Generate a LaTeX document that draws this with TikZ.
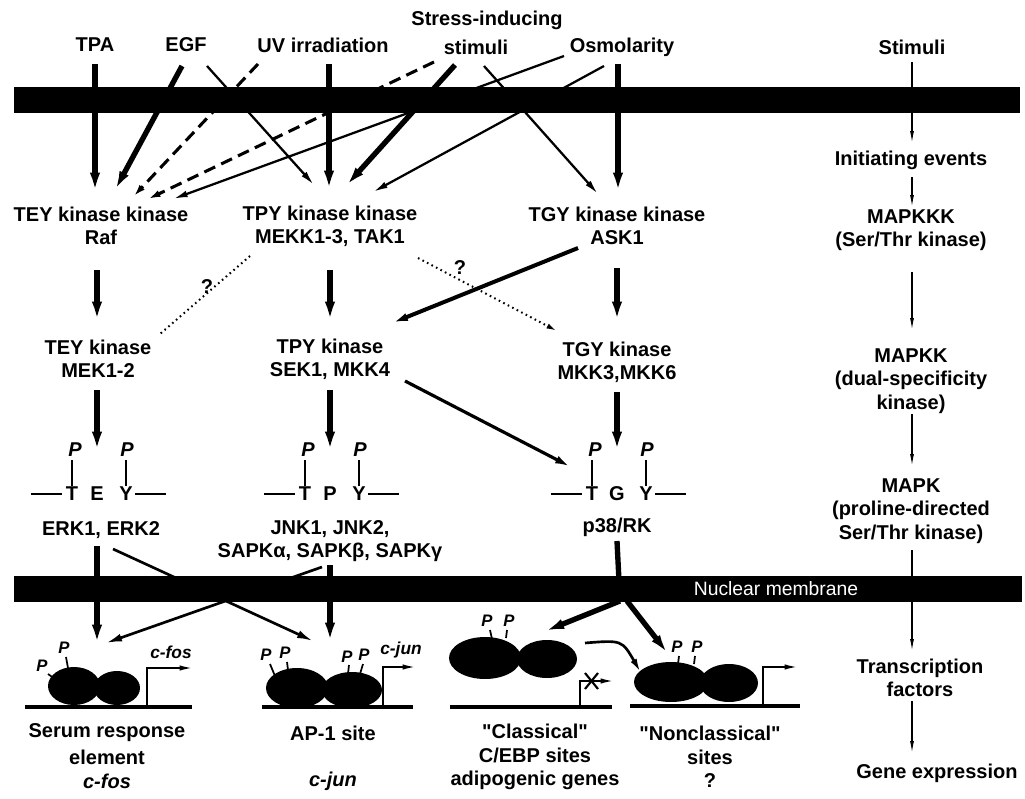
\documentclass[tikz,border=0pt]{standalone}
\usepackage{fontspec}
\setmainfont{Liberation Sans}[Ligatures=TeXOff]
\usetikzlibrary{arrows.meta}
\begin{document}
\begin{tikzpicture}[x=0.75pt,y=-0.75pt,
  lbl/.style={font=\fontsize{15}{17.5}\selectfont\bfseries, inner sep=0pt, align=center},
  ital/.style={font=\fontsize{15}{17.5}\selectfont\bfseries\itshape, inner sep=0pt},
  smallp/.style={font=\fontsize{12.5}{14}\selectfont\bfseries\itshape, inner sep=0pt},
  thickarr/.style={line width=4pt, -{Latex[length=16pt,width=7.5pt]}},
  medarr/.style={line width=2.4pt, -{Latex[length=12pt,width=6pt]}},
  thinarr/.style={line width=1.7pt, -{Latex[length=11pt,width=5pt]}},
  dasharr/.style={line width=2.3pt, dash pattern=on 9pt off 5pt, -{Latex[length=11pt,width=5pt]}},
  hairarr/.style={line width=0.9pt, -{Latex[length=9pt,width=3pt]}},
  dotline/.style={line width=1.5pt, dash pattern=on 1.2pt off 2.6pt},
  bond/.style={line width=1.3pt},
  dna/.style={line width=2.4pt},
  prom/.style={line width=1.4pt,-{Latex[length=10pt,width=4pt]}},
]
\useasboundingbox (0,0) rectangle (1025,799);

% ---------- membranes ----------
\fill (14,87) rectangle (1020,113);
\fill (14,576) rectangle (1022,602);
\node[font=\fontsize{14.5}{16}\selectfont, text=white, inner sep=0pt] (nm) at (776,589) {Nuclear membrane};

% ---------- stimuli ----------
\node[lbl] (tpa) at (95,45) {TPA};
\node[lbl] (egf) at (186,45) {EGF};
\node[lbl] (uv) at (323,45) {UV irradiation};
\node[lbl] (stress1) at (487,20) {Stress-inducing};
\node[lbl] (stress2) at (476,47) {stimuli};
\node[lbl] (osm) at (622,47) {Osmolarity};
\node[lbl] (stim) at (912,47) {Stimuli};

% ---------- kinase kinase row ----------
\node[lbl] (teykk) at (101,226) {TEY kinase kinase\\Raf};
\node[lbl] (tpykk) at (330,226) {TPY kinase kinase\\MEKK1-3, TAK1};
\node[lbl] (tgykk) at (617,226) {TGY kinase kinase\\ASK1};

% ---------- kinase row ----------
\node[lbl] (teyk) at (98,359) {TEY kinase\\MEK1-2};
\node[lbl] (tpyk) at (330,359) {TPY kinase\\SEK1, MKK4};
\node[lbl] (tgyk) at (617,362) {TGY kinase\\MKK3,MKK6};

\node[lbl] (q1) at (207,287) {?};
\node[lbl] (q2) at (460,268) {?};

% ---------- right column ----------
\node[lbl] (init) at (911,160) {Initiating events};
\node[lbl] (mapkkk) at (911,230) {MAPKKK\\(Ser/Thr kinase)};
\node[lbl] (mapkk) at (911,381) {MAPKK\\(dual-specificity\\kinase)};
\node[lbl] (mapk) at (911,511) {MAPK\\(proline-directed\\Ser/Thr kinase)};
\node[lbl] (tf) at (920,678) {Transcription\\factors};
\node[lbl] (ge) at (937,773) {Gene expression};

% ---------- MAPK motifs ----------
\foreach \cx/\mid/\nm in {97/E/erk,330/P/jnk,617/G/p}{
  \node[lbl] (\nm T) at (\cx-25,494) {T};
  \node[lbl] (\nm M) at (\cx,494) {\mid};
  \node[lbl] (\nm Y) at (\cx+29,494) {Y};
  \node[ital] (\nm P1) at (\cx-22,450) {P};
  \node[ital] (\nm P2) at (\cx+30,450) {P};
  \coordinate (\nm L1) at (\cx-66,494);
  \coordinate (\nm L2) at (\cx-35,494);
  \coordinate (\nm R1) at (\cx+38,494);
  \coordinate (\nm R2) at (\cx+69,494);
  \draw[bond] (\nm L1) -- (\nm L2);
  \draw[bond] (\nm R1) -- (\nm R2);
  \draw[bond] (\nm P1.south -| \nm T) ++(0,3) -- ([yshift=1pt]\nm T.north);
  \draw[bond] (\nm P2.south -| \nm Y) ++(0,3) -- ([yshift=1pt]\nm Y.north);
}
\node[lbl] (erk) at (101,530) {ERK1, ERK2};
\node[lbl] (jnk) at (330,541) {JNK1, JNK2,\\SAPKα, SAPKβ, SAPKγ};
\node[lbl] (p38) at (617,527) {p38/RK};

% ---------- top arrows ----------
\coordinate (tpaS) at (95,64);   \coordinate (rafA) at (95,194);
\coordinate (egfS1) at (182,66); \coordinate (rafB) at (114,192);
\coordinate (egfS2) at (207,66); \coordinate (tpyA) at (314,185);
\coordinate (uvS1) at (258,64);  \coordinate (rafC) at (132,198);
\coordinate (uvS2) at (329,64);  \coordinate (tpyB) at (329,192);
\coordinate (stS1) at (434,62);  \coordinate (rafD) at (146,200);
\coordinate (stS2) at (455,65);  \coordinate (tpyC) at (345,187);
\coordinate (stS3) at (484,66);  \coordinate (tgyA) at (598,194);
\coordinate (osS1) at (564,56);  \coordinate (rafE) at (173,199);
\coordinate (osS2) at (604,66);  \coordinate (tpyD) at (373,192);
\coordinate (osS3) at (618,64);  \coordinate (tgyB) at (618,194);
\coordinate (stimS) at (912,62); \coordinate (initT) at (912,143);

\draw[thickarr] (tpaS) -- (rafA);
\draw[thickarr] (egfS1) -- (rafB);
\draw[thinarr] (egfS2) -- (tpyA);
\draw[dasharr] (uvS1) -- (rafC);
\draw[thickarr] (uvS2) -- (tpyB);
\draw[dasharr] (stS1) -- (rafD);
\draw[thickarr] (stS2) -- (tpyC);
\draw[thinarr] (stS3) -- (tgyA);
\draw[thinarr] (osS1) -- (rafE);
\draw[thinarr] (osS2) -- (tpyD);
\draw[thickarr] (osS3) -- (tgyB);
\draw[hairarr] (stimS) -- (initT);

% ---------- middle arrows ----------
\coordinate (c1a) at (97,270);  \coordinate (c1b) at (97,323);
\coordinate (c2a) at (330,270); \coordinate (c2b) at (330,323);
\coordinate (c3a) at (617,268); \coordinate (c3b) at (617,323);
\coordinate (askS) at (578,248); \coordinate (tpyT) at (392,323);
\coordinate (dotA) at (250,256); \coordinate (dotB) at (160,334);
\coordinate (dotC) at (418,258); \coordinate (dotD) at (557,331);
\coordinate (d1a) at (97,390);  \coordinate (d1b) at (97,453);
\coordinate (d2a) at (330,390); \coordinate (d2b) at (330,453);
\coordinate (d3a) at (617,392); \coordinate (d3b) at (617,453);
\coordinate (sekS) at (405,381); \coordinate (p38T) at (571,467);

\draw[thickarr] (c1a) -- (c1b);
\draw[thickarr] (c2a) -- (c2b);
\draw[thickarr] (c3a) -- (c3b);
\draw[medarr, line width=3pt] (askS) -- (tpyT);
\draw[dotline] (dotA) -- (dotB);
\draw[dotline, -{Latex[length=8pt,width=4pt]}] (dotC) -- (dotD);
\draw[thickarr] (d1a) -- (d1b);
\draw[thickarr] (d2a) -- (d2b);
\draw[thickarr] (d3a) -- (d3b);
\draw[medarr] (sekS) -- (p38T);

% right column arrows
\coordinate (r1a) at (912,177); \coordinate (r1b) at (912,207);
\coordinate (r2a) at (912,272); \coordinate (r2b) at (912,330);
\coordinate (r3a) at (912,414); \coordinate (r3b) at (912,466);
\coordinate (r4a) at (912,550); \coordinate (r4b) at (912,651);
\coordinate (r5a) at (912,701); \coordinate (r5b) at (912,753);
\draw[hairarr] (r1a) -- (r1b);
\draw[hairarr] (r2a) -- (r2b);
\draw[hairarr] (r3a) -- (r3b);
\draw[hairarr] (r4a) -- (r4b);
\draw[hairarr] (r5a) -- (r5b);

% ---------- bottom arrows ----------
\coordinate (e1a) at (97,546);  \coordinate (e1b) at (97,646);
\coordinate (e2a) at (113,549); \coordinate (e2b) at (313,641);
\coordinate (j1a) at (330,565); \coordinate (j1b) at (330,644);
\coordinate (j2a) at (322,567); \coordinate (j2b) at (106,643);
\coordinate (pa) at (617,541);  \coordinate (pb) at (620,601);
\coordinate (pc) at (543,632);  \coordinate (pd) at (627,601);
\coordinate (pe) at (669,655);
\draw[thickarr] (e1a) -- (e1b);
\draw[medarr, line width=2pt] (e2a) -- (e2b);
\draw[thickarr] (j1a) -- (j1b);
\draw[medarr, line width=2pt] (j2a) -- (j2b);
\draw[line width=4pt] (pa) -- (pb);
\draw[thickarr] (pb) -- (pc);
\draw[thickarr] (pd) -- (pe);

% ---------- transcription complexes ----------
% SRE
\fill (74,686) ellipse [x radius=26, y radius=19];
\fill (117,688) ellipse [x radius=23, y radius=17];
\draw[dna] (25,707) -- (192,707);
\coordinate (sreP0) at (147,707); \coordinate (sreP1) at (147,668); \coordinate (sreP2) at (193,668);
\draw[prom] (sreP0) -- (sreP1) -- (sreP2);
\node[smallp] (sreA) at (42,666) {P};
\node[smallp] (sreB) at (64,648) {P};
\draw[bond] (48,674) -- (55,679);
\draw[bond] (66,657) -- (68,668);
\node[ital, font=\fontsize{13}{14}\selectfont\bfseries\itshape] (cfos1) at (171,652) {c-fos};

% AP-1
\fill (297,688) ellipse [x radius=31, y radius=20];
\fill (352,690) ellipse [x radius=30, y radius=18];
\draw[dna] (262,707) -- (413,707);
\coordinate (apP0) at (383,707); \coordinate (apP1) at (383,667); \coordinate (apP2) at (416,667);
\draw[prom] (apP0) -- (apP1) -- (apP2);
\node[smallp] (apA) at (266,655) {P};
\node[smallp] (apB) at (285,653) {P};
\node[smallp] (apC) at (347,657) {P};
\node[smallp] (apD) at (364,655) {P};
\draw[bond] (270,664) -- (275,676);
\draw[bond] (287,662) -- (288,670);
\draw[bond] (349,665) -- (348,674);
\draw[bond] (363,664) -- (360,674);
\node[ital, font=\fontsize{13}{14}\selectfont\bfseries\itshape] (cjun1) at (401,650) {c-jun};

% Classical
\fill (485,658) ellipse [x radius=36, y radius=21];
\fill (547,659) ellipse [x radius=30, y radius=19];
\draw[dna] (450,707) -- (612,707);
\coordinate (clP0) at (580,707); \coordinate (clP1) at (580,681); \coordinate (clP2) at (614,681);
\draw[prom] (clP0) -- (clP1) -- (clP2);
\draw[line width=1.6pt] (585,673) -- (598,689);
\draw[line width=1.6pt] (598,673) -- (585,689);
\node[smallp] (clA) at (487,621) {P};
\node[smallp] (clB) at (509,621) {P};
\draw[bond] (490,630) -- (492,639);
\draw[bond] (507,630) -- (506,638);
\coordinate (cvA) at (585,643); \coordinate (cvB) at (641,673);
\draw[line width=2pt, -{Latex[length=11pt,width=5pt]}] (cvA) .. controls (622,640) .. (cvB);

% Nonclassical
\fill (671,682) ellipse [x radius=37, y radius=20];
\fill (729,683) ellipse [x radius=29, y radius=19];
\draw[dna] (630,706) -- (800,706);
\coordinate (ncP0) at (763,706); \coordinate (ncP1) at (763,667); \coordinate (ncP2) at (798,667);
\draw[prom] (ncP0) -- (ncP1) -- (ncP2);
\node[smallp] (ncA) at (677,647) {P};
\node[smallp] (ncB) at (697,647) {P};
\draw[bond] (679,656) -- (678,664);
\draw[bond] (695,656) -- (694,664);

% ---------- bottom labels ----------
\node[lbl] (sre) at (107,733) {Serum response};
\node[lbl] (srel) at (107,757) {element};
\node[ital] (cfos2) at (107,781) {c-fos};
\node[lbl] (ap1) at (333,733) {AP-1 site};
\node[ital] (cjun2) at (333,781) {c-jun};
\node[lbl] (cl) at (535,757) {"Classical"\\C/EBP sites\\adipogenic genes};
\node[lbl] (nc) at (710,757) {"Nonclassical"\\sites\\?};

\end{tikzpicture}
\end{document}
